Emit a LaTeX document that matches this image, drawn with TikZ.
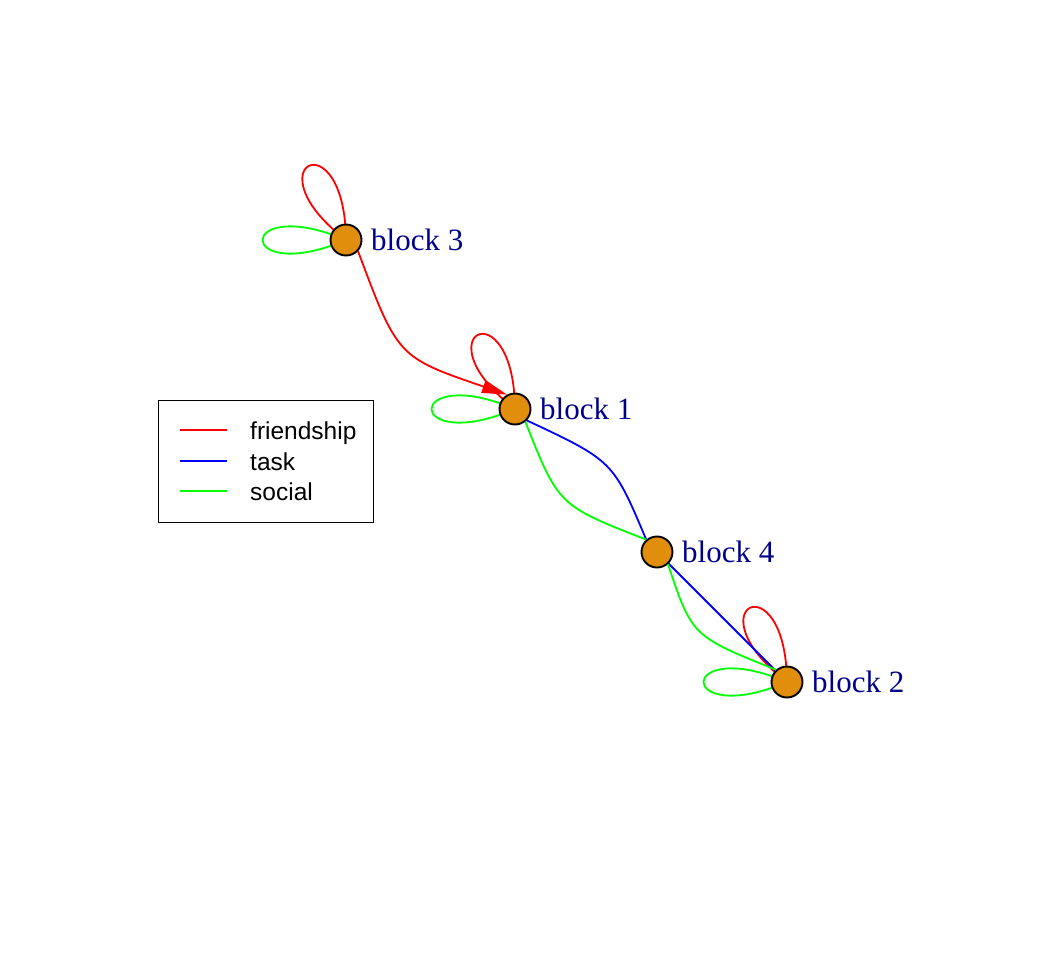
\documentclass[tikz,border=0pt]{standalone}
\usepackage{fontspec}
\setmainfont{Liberation Serif}
\newfontfamily\legendfont{Liberation Sans}
\usetikzlibrary{arrows.meta,backgrounds}
\definecolor{vfill}{RGB}{224,142,11}
\definecolor{lblue}{RGB}{0,0,139}
\begin{document}
\begin{tikzpicture}[x=1pt,y=1pt,
  vertex/.style={circle,draw=black,fill=vfill,line width=1.9pt,minimum size=31pt,inner sep=0pt},
  vlabel/.style={anchor=base west,text=lblue,font=\fontsize{31}{36}\selectfont,inner sep=0pt},
  friend/.style={draw=red,line width=1.8pt},
  taskedge/.style={draw=blue,line width=1.8pt},
  socialedge/.style={draw=green,line width=1.8pt},
  legtext/.style={anchor=base west,inner sep=0pt,font=\legendfont\fontsize{24.5}{29}\selectfont},
  legline/.style={line width=1.7pt}
  ]
\useasboundingbox (0,0) rectangle (1056,-960);
% vertices
\node[vertex] (b3) at (346,-240) {};
\node[vertex] (b1) at (515,-409) {};
\node[vertex] (b4) at (657,-552) {};
\node[vertex] (b2) at (787,-682) {};
% labels
\node[vlabel] (l3) at (371,-250) {block 3};
\node[vlabel] (l1) at (540,-419) {block 1};
\node[vlabel] (l4) at (682,-562) {block 4};
\node[vlabel] (l2) at (812,-692) {block 2};
% edges
\begin{pgfonlayer}{background}
  % loops
  \draw[friend] (b3.center) .. controls +(90.6:123) and +(142.6:123) .. (b3.center);
  \draw[socialedge] (b3.center) .. controls +(157:121) and +(203:121) .. (b3.center);
  \draw[friend] (b1.center) .. controls +(90.6:123) and +(142.6:123) .. (b1.center);
  \draw[socialedge] (b1.center) .. controls +(157:121) and +(203:121) .. (b1.center);
  \draw[friend] (b2.center) .. controls +(90.6:123) and +(142.6:123) .. (b2.center);
  \draw[socialedge] (b2.center) .. controls +(157:121) and +(203:121) .. (b2.center);
\end{pgfonlayer}
% between vertices
\draw[friend,-{Triangle[length=25pt,width=13pt]}] (b3.-43) .. controls (397.7,-357.2) and (397.7,-357.2) .. (b1.119);
\draw[taskedge] (b1.-44) .. controls (613,-460.8) and (613,-460.8) .. (b4.131);
\draw[socialedge] (b1.-51) .. controls (558.5,-505.5) and (558.5,-505.5) .. (b4.131);
\draw[taskedge] (b4) -- (b2);
\draw[socialedge] (b4.-48) .. controls (692,-636.1) and (692,-636.1) .. (b2.132);
% legend
\node[draw=black,line width=1.3pt,minimum width=215pt,minimum height=122pt,inner sep=0pt,anchor=north west] (legend) at (157.5,-399.5) {};
\draw[legline,red] (180,-430) -- (227,-430);
\draw[legline,blue] (180,-461) -- (227,-461);
\draw[legline,green] (180,-491) -- (227,-491);
\node[legtext] (lf) at (250,-439) {friendship};
\node[legtext] (lt) at (250,-470) {task};
\node[legtext] (ls) at (250,-500) {social};
\end{tikzpicture}
\end{document}
